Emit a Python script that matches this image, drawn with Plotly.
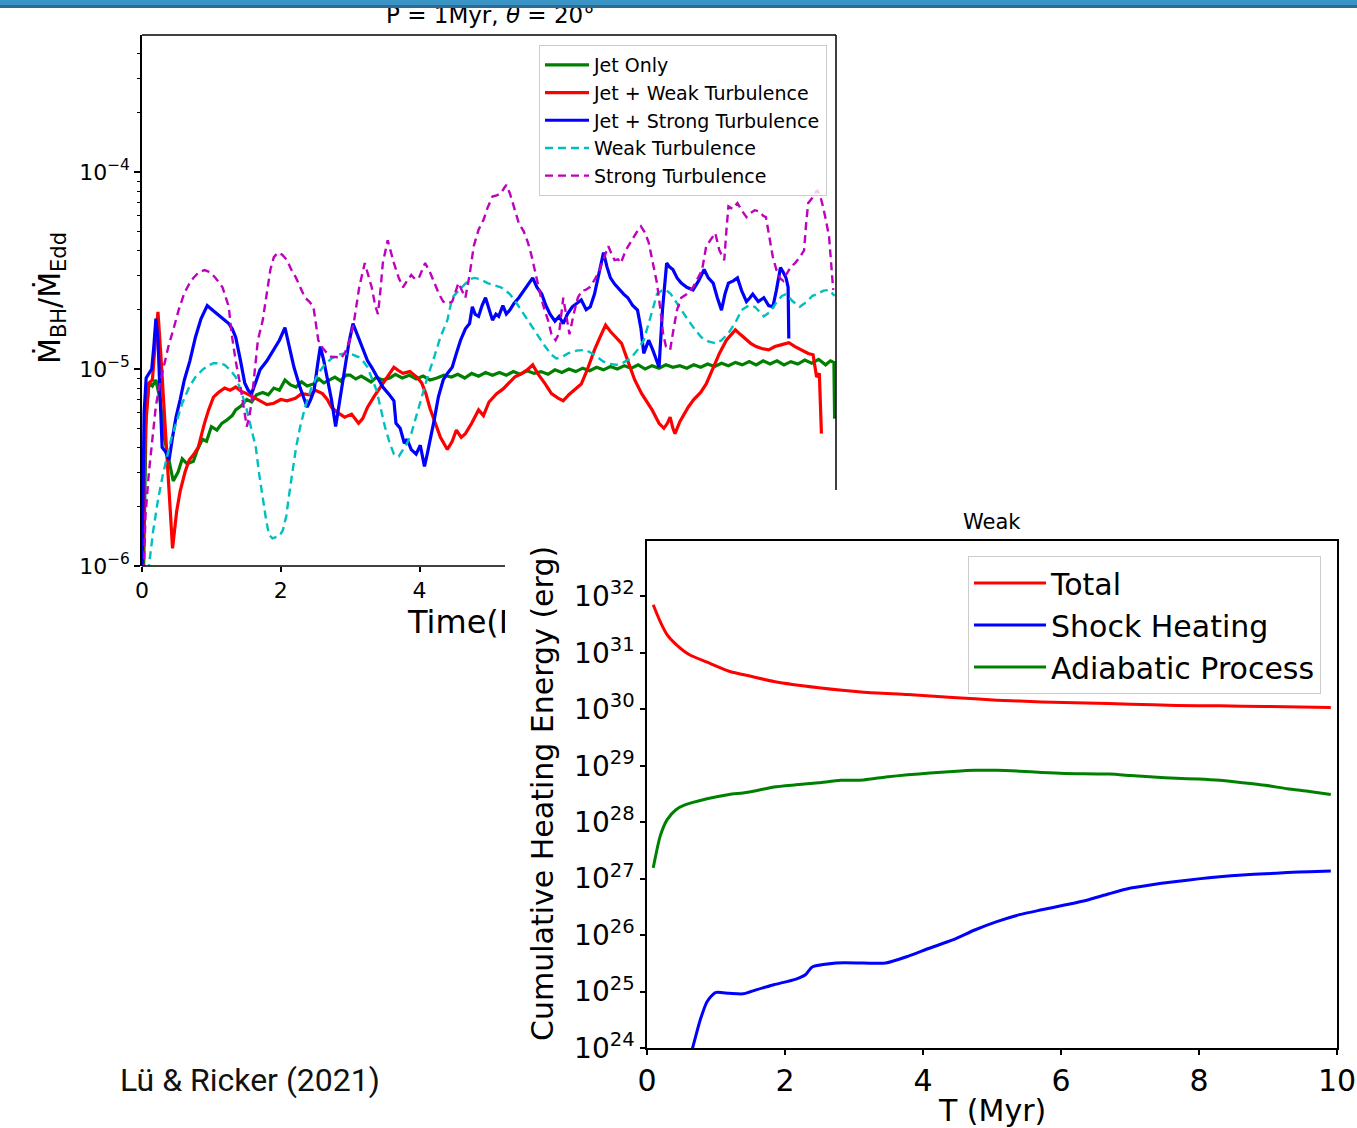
import math
import plotly.graph_objects as go

# ---------------- Chart 1 data : accretion rate vs time ----------------
t_jet = [0.02, 0.06, 0.10, 0.15, 0.20, 0.26, 0.32, 0.40, 0.45, 0.52, 0.58, 0.65, 0.74, 0.80, 0.87, 0.93,
         1.00, 1.08, 1.15, 1.22, 1.30, 1.35, 1.43, 1.51, 1.58, 1.65, 1.74, 1.82, 1.90, 1.98, 2.06, 2.14,
         2.22, 2.30, 2.38, 2.47, 2.55, 2.62, 2.70, 2.78, 2.86, 2.94, 3.00, 3.08, 3.16, 3.24, 3.30, 3.38,
         3.46, 3.57, 3.65, 3.75, 3.85, 3.95, 4.05, 4.15, 4.25, 4.35, 4.46, 4.55, 4.65, 4.75, 4.85, 4.95,
         5.05, 5.15, 5.25, 5.35, 5.45, 5.55, 5.65, 5.75, 5.85, 5.95, 6.05, 6.15, 6.25, 6.35, 6.45, 6.55,
         6.65, 6.75, 6.85, 6.95, 7.05, 7.15, 7.25, 7.35, 7.45, 7.55, 7.65, 7.75, 7.85, 7.95, 8.05, 8.15,
         8.25, 8.35, 8.45, 8.55, 8.65, 8.75, 8.85, 8.95, 9.05, 9.15, 9.25, 9.35, 9.45, 9.55, 9.65, 9.75,
         9.85, 9.92, 9.97, 9.98]
mdot_jet = [8e-7, 6.0e-6, 8.5e-6, 8.2e-6, 8.8e-6, 7.0e-6, 4.5e-6, 3.2e-6, 2.7e-6, 3.0e-6, 3.5e-6, 3.3e-6,
            3.4e-6, 3.9e-6, 4.4e-6, 4.3e-6, 5.1e-6, 4.9e-6, 5.3e-6, 5.5e-6, 5.8e-6, 6.2e-6, 6.5e-6, 7.0e-6,
            6.8e-6, 7.4e-6, 7.6e-6, 7.4e-6, 8.0e-6, 7.8e-6, 8.8e-6, 8.3e-6, 8.1e-6, 8.6e-6, 8.2e-6, 8.4e-6,
            8.9e-6, 8.5e-6, 8.8e-6, 9.1e-6, 8.7e-6, 9.3e-6, 9.3e-6, 8.9e-6, 9.2e-6, 8.8e-6, 8.6e-6, 9.1e-6,
            8.8e-6, 9.0e-6, 9.4e-6, 9.0e-6, 9.3e-6, 8.9e-6, 9.2e-6, 8.8e-6, 9.0e-6, 9.3e-6, 9.1e-6, 9.4e-6,
            9.0e-6, 9.5e-6, 9.2e-6, 9.6e-6, 9.3e-6, 9.6e-6, 9.3e-6, 9.7e-6, 9.4e-6, 9.8e-6, 9.5e-6, 9.7e-6,
            9.4e-6, 9.9e-6, 9.6e-6, 1.0e-5, 9.7e-6, 1.01e-5, 9.8e-6, 1.02e-5, 9.9e-6, 1.03e-5, 1.0e-5,
            1.04e-5, 1.01e-5, 1.05e-5, 1.0e-5, 1.04e-5, 1.01e-5, 1.05e-5, 1.02e-5, 1.04e-5, 1.01e-5,
            1.05e-5, 1.02e-5, 1.06e-5, 1.03e-5, 1.07e-5, 1.04e-5, 1.08e-5, 1.05e-5, 1.09e-5, 1.05e-5,
            1.1e-5, 1.06e-5, 1.1e-5, 1.05e-5, 1.09e-5, 1.06e-5, 1.11e-5, 1.07e-5, 1.12e-5, 1.05e-5,
            1.1e-5, 1.08e-5, 5.6e-6]

t_jet_weak = [0.00, 0.05, 0.10, 0.15, 0.20, 0.23, 0.27, 0.32, 0.37, 0.44, 0.50, 0.55, 0.62, 0.68, 0.75,
              0.81, 0.90, 0.96, 1.03, 1.10, 1.19, 1.27, 1.35, 1.43, 1.51, 1.60, 1.70, 1.80, 1.90, 2.00,
              2.09, 2.21, 2.30, 2.42, 2.50, 2.60, 2.67, 2.73, 2.82, 2.92, 3.02, 3.12, 3.18, 3.25, 3.35,
              3.44, 3.53, 3.63, 3.70, 3.76, 3.86, 3.96, 4.03, 4.09, 4.15, 4.21, 4.30, 4.40, 4.47, 4.53,
              4.60, 4.66, 4.75, 4.85, 4.92, 5.00, 5.11, 5.20, 5.28, 5.37, 5.45, 5.55, 5.63, 5.70, 5.81,
              5.90, 6.00, 6.07, 6.15, 6.25, 6.33, 6.42, 6.52, 6.60, 6.68, 6.75, 6.82, 6.91, 7.00, 7.10,
              7.20, 7.28, 7.35, 7.45, 7.52, 7.57, 7.61, 7.65, 7.68, 7.75, 7.87, 7.95, 8.05, 8.13, 8.22,
              8.32, 8.42, 8.55, 8.62, 8.70, 8.77, 8.85, 8.93, 9.03, 9.12, 9.22, 9.32, 9.41, 9.50, 9.60,
              9.67, 9.72, 9.76, 9.79]
mdot_jet_weak = [8e-7, 5e-6, 8.5e-6, 8.8e-6, 1.5e-5, 1.95e-5, 1.2e-5, 6.4e-6, 3.0e-6, 1.23e-6, 1.9e-6,
                 2.4e-6, 3.0e-6, 3.45e-6, 3.7e-6, 4.0e-6, 5.3e-6, 6.2e-6, 7.2e-6, 7.6e-6, 8.0e-6, 7.8e-6,
                 8.1e-6, 7.7e-6, 7.5e-6, 7.2e-6, 6.9e-6, 6.6e-6, 6.7e-6, 7.0e-6, 6.9e-6, 7.1e-6, 7.5e-6,
                 7.4e-6, 7.8e-6, 7.5e-6, 7.0e-6, 6.4e-6, 6.0e-6, 5.7e-6, 5.9e-6, 5.3e-6, 5.6e-6, 6.4e-6,
                 7.3e-6, 8.1e-6, 9.0e-6, 1.02e-5, 9.8e-6, 9.5e-6, 9.7e-6, 9.1e-6, 8.5e-6, 7.5e-6, 6.3e-6,
                 5.5e-6, 4.5e-6, 3.9e-6, 4.3e-6, 4.9e-6, 4.5e-6, 4.7e-6, 5.3e-6, 6.2e-6, 5.8e-6, 6.8e-6,
                 7.5e-6, 7.9e-6, 8.4e-6, 9.1e-6, 9.4e-6, 9.9e-6, 1.05e-5, 9.5e-6, 8.4e-6, 7.5e-6, 7.1e-6,
                 6.9e-6, 7.4e-6, 7.9e-6, 8.4e-6, 1.0e-5, 1.25e-5, 1.45e-5, 1.67e-5, 1.55e-5, 1.45e-5,
                 1.35e-5, 1.1e-5, 8.8e-6, 7.5e-6, 6.8e-6, 6.2e-6, 5.3e-6, 5.0e-6, 5.3e-6, 5.7e-6, 5.0e-6,
                 4.7e-6, 5.4e-6, 6.4e-6, 7.0e-6, 7.6e-6, 8.4e-6, 1.0e-5, 1.2e-5, 1.4e-5, 1.58e-5, 1.5e-5,
                 1.42e-5, 1.35e-5, 1.3e-5, 1.27e-5, 1.25e-5, 1.3e-5, 1.33e-5, 1.36e-5, 1.3e-5, 1.25e-5,
                 1.2e-5, 1.18e-5, 9.1e-6, 9.5e-6, 4.7e-6]

t_jet_strong = [0.00, 0.03, 0.06, 0.10, 0.14, 0.17, 0.20, 0.23, 0.26, 0.29, 0.34, 0.39, 0.44, 0.49, 0.55,
                0.61, 0.69, 0.77, 0.85, 0.94, 1.01, 1.09, 1.17, 1.25, 1.30, 1.35, 1.42, 1.48, 1.53, 1.58,
                1.64, 1.70, 1.80, 1.90, 1.98, 2.06, 2.12, 2.19, 2.28, 2.38, 2.43, 2.48, 2.53, 2.57, 2.62,
                2.67, 2.73, 2.79, 2.85, 2.92, 2.98, 3.04, 3.10, 3.18, 3.25, 3.31, 3.40, 3.47, 3.55, 3.63,
                3.66, 3.72, 3.78, 3.82, 3.88, 3.95, 4.01, 4.07, 4.11, 4.15, 4.21, 4.27, 4.34, 4.40, 4.47,
                4.53, 4.59, 4.66, 4.72, 4.76, 4.80, 4.85, 4.90, 4.95, 5.00, 5.05, 5.10, 5.14, 5.20, 5.25,
                5.30, 5.36, 5.43, 5.50, 5.57, 5.63, 5.69, 5.76, 5.82, 5.88, 5.95, 6.01, 6.07, 6.13, 6.20,
                6.27, 6.33, 6.40, 6.46, 6.52, 6.58, 6.65, 6.70, 6.75, 6.81, 6.88, 6.94, 7.00, 7.07, 7.14,
                7.19, 7.23, 7.30, 7.36, 7.41, 7.45, 7.50, 7.56, 7.60, 7.65, 7.71, 7.77, 7.85, 7.94, 8.02,
                8.10, 8.16, 8.23, 8.29, 8.35, 8.40, 8.45, 8.52, 8.58, 8.64, 8.71, 8.76, 8.80, 8.88, 8.96,
                9.03, 9.09, 9.14, 9.20, 9.24, 9.28, 9.31, 9.32]
mdot_jet_strong = [9e-7, 6e-6, 9e-6, 9.5e-6, 1.0e-5, 1.3e-5, 1.8e-5, 1.4e-5, 8e-6, 4.0e-6, 3.8e-6, 3.45e-6,
                   4.5e-6, 5.7e-6, 7.0e-6, 8.8e-6, 1.1e-5, 1.45e-5, 1.8e-5, 2.1e-5, 2.0e-5, 1.9e-5, 1.8e-5,
                   1.7e-5, 1.6e-5, 1.45e-5, 1.1e-5, 8.5e-6, 7.8e-6, 7.5e-6, 8.6e-6, 9.9e-6, 1.1e-5, 1.25e-5,
                   1.4e-5, 1.62e-5, 1.3e-5, 1.02e-5, 8.0e-6, 6.4e-6, 7.0e-6, 7.8e-6, 1.05e-5, 1.3e-5, 1.1e-5,
                   9.1e-6, 7.0e-6, 5.1e-6, 7.0e-6, 1.02e-5, 1.35e-5, 1.7e-5, 1.5e-5, 1.25e-5, 1.1e-5, 1.02e-5,
                   9.0e-6, 8.1e-6, 7.5e-6, 6.9e-6, 5.3e-6, 5.0e-6, 4.2e-6, 4.4e-6, 3.9e-6, 3.7e-6, 4.1e-6,
                   3.2e-6, 3.7e-6, 4.3e-6, 5.5e-6, 7.2e-6, 8.8e-6, 9.5e-6, 1.02e-5, 1.2e-5, 1.4e-5, 1.6e-5,
                   1.7e-5, 2.07e-5, 1.9e-5, 1.85e-5, 2.1e-5, 2.3e-5, 2.0e-5, 1.77e-5, 1.9e-5, 1.85e-5, 2.1e-5,
                   1.9e-5, 1.99e-5, 2.15e-5, 2.3e-5, 2.5e-5, 2.7e-5, 2.9e-5, 2.6e-5, 2.4e-5, 2.1e-5, 1.9e-5,
                   1.75e-5, 1.85e-5, 1.7e-5, 1.9e-5, 2.07e-5, 2.15e-5, 2.24e-5, 2.0e-5, 2.07e-5, 2.4e-5,
                   3.0e-5, 3.9e-5, 3.3e-5, 2.9e-5, 2.7e-5, 2.52e-5, 2.4e-5, 2.3e-5, 2.1e-5, 1.99e-5, 1.6e-5,
                   1.2e-5, 1.4e-5, 1.25e-5, 1.1e-5, 1.02e-5, 2.0e-5, 3.45e-5, 3.3e-5, 3.2e-5, 2.9e-5, 2.73e-5,
                   2.6e-5, 2.52e-5, 2.8e-5, 3.2e-5, 2.9e-5, 2.73e-5, 2.3e-5, 1.99e-5, 2.4e-5, 2.73e-5, 2.8e-5,
                   2.9e-5, 2.5e-5, 2.2e-5, 2.3e-5, 2.4e-5, 2.2e-5, 2.3e-5, 2.1e-5, 2.07e-5, 2.5e-5, 3.27e-5,
                   3.1e-5, 2.9e-5, 2.6e-5, 1.43e-5]

t_weak = [0.08, 0.10, 0.16, 0.23, 0.30, 0.36, 0.42, 0.49, 0.58, 0.68, 0.77, 0.87, 0.95, 1.03, 1.11, 1.19,
          1.27, 1.35, 1.43, 1.51, 1.58, 1.64, 1.69, 1.74, 1.79, 1.83, 1.88, 1.93, 1.98, 2.03, 2.08, 2.12,
          2.17, 2.22, 2.28, 2.35, 2.44, 2.54, 2.63, 2.73, 2.82, 2.92, 3.02, 3.12, 3.19, 3.25, 3.31, 3.38,
          3.44, 3.50, 3.57, 3.63, 3.70, 3.76, 3.82, 3.88, 3.95, 4.01, 4.11, 4.21, 4.30, 4.40, 4.47, 4.56,
          4.66, 4.72, 4.79, 4.88, 4.98, 5.08, 5.17, 5.24, 5.30, 5.40, 5.50, 5.57, 5.63, 5.72, 5.81, 5.90,
          5.97, 6.05, 6.14, 6.26, 6.39, 6.52, 6.65, 6.75, 6.84, 6.94, 7.04, 7.14, 7.23, 7.30, 7.35, 7.42,
          7.49, 7.55, 7.62, 7.69, 7.78, 7.87, 7.96, 8.06, 8.16, 8.26, 8.35, 8.45, 8.55, 8.64, 8.74, 8.83,
          8.90, 8.96, 9.05, 9.15, 9.22, 9.28, 9.38, 9.48, 9.58, 9.66, 9.73, 9.82, 9.90, 9.98]
mdot_weak = [8e-7, 1.0e-6, 1.5e-6, 2.16e-6, 2.9e-6, 3.6e-6, 4.4e-6, 5.3e-6, 6.7e-6, 8.1e-6, 9.1e-6, 9.9e-6,
             1.04e-5, 1.07e-5, 1.07e-5, 1.05e-5, 9.9e-6, 9.1e-6, 7.7e-6, 6.2e-6, 4.9e-6, 4.0e-6, 2.9e-6,
             2.16e-6, 1.7e-6, 1.44e-6, 1.38e-6, 1.4e-6, 1.42e-6, 1.52e-6, 1.8e-6, 2.3e-6, 3.0e-6, 4.0e-6,
             5.1e-6, 6.4e-6, 8.0e-6, 9.5e-6, 1.05e-5, 1.13e-5, 1.18e-5, 1.2e-5, 1.19e-5, 1.15e-5, 1.09e-5,
             1.02e-5, 9.0e-6, 7.8e-6, 6.3e-6, 5.1e-6, 4.2e-6, 3.7e-6, 3.6e-6, 3.9e-6, 4.2e-6, 4.7e-6,
             5.7e-6, 6.9e-6, 9.0e-6, 1.15e-5, 1.45e-5, 1.77e-5, 2.3e-5, 2.5e-5, 2.73e-5, 2.85e-5, 2.9e-5,
             2.85e-5, 2.73e-5, 2.65e-5, 2.6e-5, 2.5e-5, 2.4e-5, 2.15e-5, 1.9e-5, 1.75e-5, 1.63e-5, 1.45e-5,
             1.3e-5, 1.18e-5, 1.13e-5, 1.15e-5, 1.2e-5, 1.24e-5, 1.25e-5, 1.18e-5, 1.09e-5, 1.06e-5,
             1.05e-5, 1.08e-5, 1.13e-5, 1.25e-5, 1.4e-5, 1.7e-5, 1.99e-5, 2.4e-5, 2.5e-5, 2.52e-5, 2.4e-5,
             2.2e-5, 1.95e-5, 1.77e-5, 1.6e-5, 1.45e-5, 1.38e-5, 1.35e-5, 1.4e-5, 1.52e-5, 1.72e-5,
             1.99e-5, 2.1e-5, 2.07e-5, 1.95e-5, 1.85e-5, 1.95e-5, 2.2e-5, 2.35e-5, 2.4e-5, 2.2e-5, 2.07e-5,
             2.2e-5, 2.35e-5, 2.4e-5, 2.5e-5, 2.52e-5, 2.35e-5]

t_strong = [0.02, 0.05, 0.10, 0.15, 0.20, 0.26, 0.32, 0.38, 0.45, 0.53, 0.61, 0.68, 0.74, 0.82, 0.90, 0.98,
            1.06, 1.16, 1.25, 1.29, 1.35, 1.42, 1.51, 1.55, 1.58, 1.62, 1.67, 1.74, 1.80, 1.85, 1.90, 1.96,
            2.02, 2.09, 2.15, 2.22, 2.28, 2.35, 2.41, 2.47, 2.54, 2.60, 2.67, 2.73, 2.80, 2.86, 2.92, 2.98,
            3.05, 3.13, 3.21, 3.26, 3.31, 3.36, 3.40, 3.44, 3.47, 3.54, 3.58, 3.63, 3.70, 3.76, 3.82, 3.88,
            3.94, 3.99, 4.04, 4.08, 4.15, 4.21, 4.28, 4.34, 4.40, 4.47, 4.52, 4.56, 4.61, 4.66, 4.72, 4.78,
            4.85, 4.92, 4.98, 5.05, 5.11, 5.17, 5.21, 5.25, 5.30, 5.34, 5.38, 5.43, 5.50, 5.56, 5.61, 5.66,
            5.70, 5.75, 5.80, 5.85, 5.90, 5.96, 6.01, 6.07, 6.11, 6.16, 6.22, 6.28, 6.34, 6.39, 6.45, 6.52,
            6.58, 6.64, 6.72, 6.77, 6.81, 6.86, 6.90, 6.97, 7.04, 7.12, 7.19, 7.25, 7.30, 7.36, 7.42, 7.47,
            7.51, 7.55, 7.61, 7.66, 7.71, 7.77, 7.85, 7.94, 8.01, 8.07, 8.13, 8.20, 8.26, 8.32, 8.39, 8.42,
            8.45, 8.51, 8.58, 8.64, 8.71, 8.77, 8.83, 8.90, 8.95, 8.99, 9.04, 9.09, 9.14, 9.19, 9.24, 9.28,
            9.35, 9.41, 9.48, 9.54, 9.57, 9.60, 9.66, 9.73, 9.77, 9.80, 9.85, 9.90, 9.96]
mdot_strong = [8e-7, 1.8e-6, 3.0e-6, 4.6e-6, 6.5e-6, 8.5e-6, 1.05e-5, 1.3e-5, 1.58e-5, 2.0e-5, 2.43e-5,
               2.7e-5, 2.9e-5, 3.1e-5, 3.18e-5, 3.1e-5, 2.9e-5, 2.6e-5, 2.07e-5, 1.52e-5, 1.1e-5, 8.1e-6,
               5.1e-6, 5.8e-6, 6.9e-6, 9.5e-6, 1.4e-5, 1.77e-5, 2.5e-5, 3.2e-5, 3.7e-5, 3.9e-5, 3.8e-5,
               3.57e-5, 3.2e-5, 2.9e-5, 2.6e-5, 2.3e-5, 2.2e-5, 2.07e-5, 1.4e-5, 1.28e-5, 1.2e-5, 1.15e-5,
               1.15e-5, 1.13e-5, 1.2e-5, 1.35e-5, 1.7e-5, 2.6e-5, 3.45e-5, 3.0e-5, 2.6e-5, 2.1e-5, 1.9e-5,
               2.6e-5, 3.45e-5, 4.5e-5, 4.0e-5, 3.45e-5, 2.9e-5, 2.6e-5, 2.8e-5, 3.0e-5, 2.85e-5, 2.9e-5,
               3.2e-5, 3.45e-5, 3.1e-5, 2.73e-5, 2.4e-5, 2.2e-5, 2.15e-5, 2.2e-5, 2.5e-5, 2.73e-5, 2.5e-5,
               2.3e-5, 3.0e-5, 4.2e-5, 5.1e-5, 5.7e-5, 6.6e-5, 7.5e-5, 7.6e-5, 7.8e-5, 8.2e-5, 8.6e-5,
               7.8e-5, 7.0e-5, 6.4e-5, 5.5e-5, 5.0e-5, 4.4e-5, 3.8e-5, 3.18e-5, 2.7e-5, 2.3e-5, 2.0e-5,
               1.77e-5, 1.5e-5, 1.4e-5, 1.52e-5, 2.3e-5, 1.9e-5, 1.5e-5, 1.9e-5, 2.3e-5, 2.5e-5, 2.52e-5,
               2.6e-5, 2.83e-5, 3.1e-5, 3.5e-5, 4.2e-5, 3.8e-5, 3.57e-5, 3.6e-5, 3.45e-5, 4.0e-5, 4.4e-5,
               4.9e-5, 5.3e-5, 4.9e-5, 4.4e-5, 3.5e-5, 2.73e-5, 2.0e-5, 1.5e-5, 1.3e-5, 1.25e-5, 1.6e-5,
               2.0e-5, 2.3e-5, 2.4e-5, 2.6e-5, 2.9e-5, 3.18e-5, 4.2e-5, 4.6e-5, 4.9e-5, 4.0e-5, 3.57e-5,
               5.0e-5, 6.7e-5, 6.5e-5, 6.96e-5, 6.4e-5, 5.9e-5, 6.2e-5, 6.4e-5, 6.3e-5, 6.0e-5, 5.9e-5,
               4.6e-5, 3.7e-5, 3.2e-5, 2.9e-5, 2.8e-5, 3.0e-5, 3.3e-5, 3.45e-5, 3.7e-5, 4.0e-5, 5.5e-5,
               6.96e-5, 7.4e-5, 8.1e-5, 7.6e-5, 6.96e-5, 5.8e-5, 4.7e-5, 2.52e-5]

names1 = ["Jet Only", "Jet + Weak Turbulence", "Jet + Strong Turbulence", "Weak Turbulence", "Strong Turbulence"]
y1_tickvals = [1e-6, 1e-5, 1e-4]
y1_ticktext = ["10<sup>\u22126</sup>", "10<sup>\u22125</sup>", "10<sup>\u22124</sup>"]
y1_minor = [2e-6, 3e-6, 4e-6, 5e-6, 6e-6, 7e-6, 8e-6, 9e-6, 2e-5, 3e-5, 4e-5, 5e-5, 6e-5, 7e-5, 8e-5, 9e-5,
            2e-4, 3e-4, 4e-4]
x1_tickvals = [0, 2, 4]

# ---------------- Chart 2 data : cumulative heating energy ----------------
t_total = [0.09, 0.19, 0.29, 0.42, 0.61, 0.87, 1.19, 1.52, 1.84, 2.49, 3.14, 3.78, 4.43, 5.07, 5.72, 6.36,
           7.01, 7.67, 8.30, 8.96, 9.91]
e_total = [7.1e31, 3.6e31, 2.1e31, 1.41e31, 9.3e30, 6.8e30, 4.7e30, 3.8e30, 3.1e30, 2.4e30, 2.0e30, 1.82e30,
           1.62e30, 1.45e30, 1.35e30, 1.29e30, 1.23e30, 1.17e30, 1.15e30, 1.12e30, 1.07e30]

t_shock = [0.62, 0.66, 0.77, 0.87, 0.99, 1.19, 1.39, 1.58, 1.84, 2.16, 2.30, 2.39, 2.74, 3.14, 3.46, 3.78,
           4.10, 4.43, 4.75, 5.07, 5.40, 5.72, 6.05, 6.36, 6.70, 7.01, 7.34, 7.67, 7.99, 8.30, 8.63, 8.96,
           9.28, 9.60, 9.91]
e_shock = [7e23, 1.0e24, 3.1e24, 6.6e24, 9.6e24, 9.3e24, 9.1e24, 1.07e25, 1.32e25, 1.66e25, 2.0e25, 2.7e25,
           3.2e25, 3.2e25, 3.2e25, 4.2e25, 5.9e25, 8.2e25, 1.23e26, 1.73e26, 2.3e26, 2.8e26, 3.4e26, 4.1e26,
           5.4e26, 6.8e26, 7.9e26, 8.9e26, 9.9e26, 1.08e27, 1.16e27, 1.22e27, 1.28e27, 1.33e27, 1.36e27]

t_adiab = [0.09, 0.19, 0.29, 0.42, 0.54, 0.87, 1.19, 1.39, 1.58, 1.84, 2.16, 2.49, 2.81, 3.14, 3.46, 3.78,
           4.10, 4.43, 4.75, 5.07, 5.40, 5.72, 6.05, 6.70, 7.01, 7.34, 7.67, 7.99, 8.30, 8.63, 8.96, 9.28,
           9.60, 9.91]
e_adiab = [1.55e27, 5.6e27, 1.1e28, 1.66e28, 2.0e28, 2.6e28, 3.1e28, 3.3e28, 3.6e28, 4.2e28, 4.6e28, 5.0e28,
           5.5e28, 5.6e28, 6.3e28, 6.9e28, 7.4e28, 7.9e28, 8.3e28, 8.3e28, 8.0e28, 7.6e28, 7.3e28, 7.1e28,
           6.7e28, 6.3e28, 6.0e28, 5.8e28, 5.5e28, 5.0e28, 4.5e28, 3.9e28, 3.5e28, 3.1e28]

names2 = ["Total", "Shock Heating", "Adiabatic Process"]
y2_tickvals = [10.0 ** k for k in range(24, 33)]
y2_ticktext = ["10<sup>%d</sup>" % k for k in range(24, 33)]
x2_tickvals = [0, 2, 4, 6, 8, 10]

# ---------------- layout helpers (pixel -> paper) ----------------
W, H = 1357, 1128
def px(x):
    return x / W
def py(y):
    return 1 - y / H

FONT = "DejaVu Sans"

fig = go.Figure()

series1 = [
    (t_jet, mdot_jet, "#008000", None, 3.2),
    (t_jet_weak, mdot_jet_weak, "#ff0000", None, 3.2),
    (t_jet_strong, mdot_jet_strong, "#0000ff", None, 3.2),
    (t_weak, mdot_weak, "#00bfbf", "8px,5px", 2.4),
    (t_strong, mdot_strong, "#bf00bf", "8px,5px", 2.4),
]
for (tx, vy, col, dash, w), nm in zip(series1, names1):
    fig.add_trace(go.Scatter(x=tx, y=vy, mode="lines", name=nm, xaxis="x", yaxis="y",
                             line=dict(color=col, width=w, dash=dash), legend="legend"))

series2 = [
    (t_total, e_total, "#ff0000"),
    (t_shock, e_shock, "#0000ff"),
    (t_adiab, e_adiab, "#008000"),
]
for (tx, vy, col), nm in zip(series2, names2):
    fig.add_trace(go.Scatter(x=tx, y=vy, mode="lines", name=nm, xaxis="x2", yaxis="y2",
                             line=dict(color=col, width=3, shape="spline", smoothing=0.6),
                             legend="legend2"))

fig.update_layout(
    width=W, height=H,
    margin=dict(l=0, r=0, t=0, b=0, pad=0, autoexpand=False),
    paper_bgcolor="white", plot_bgcolor="white",
    font=dict(family=FONT, color="black"),
    xaxis=dict(domain=[px(142), px(836)], range=[0, 10], anchor="y", automargin=False,
               tickmode="array", tickvals=x1_tickvals, ticks="outside", ticklen=5, tickwidth=1.5,
               tickcolor="black", showline=False, showgrid=False, zeroline=False,
               tickfont=dict(size=22, family=FONT)),
    yaxis=dict(domain=[py(566), py(35)], type="log", range=[-6, math.log10(4.96e-4)], anchor="x",
               automargin=False,
               tickmode="array", tickvals=y1_tickvals, ticktext=y1_ticktext, ticks="outside",
               ticklen=6, tickwidth=1.5, tickcolor="black", showline=True, linecolor="black",
               linewidth=1.5, showgrid=False, zeroline=False,
               minor=dict(tickmode="array", tickvals=y1_minor, ticks="outside", ticklen=3.5,
                          tickwidth=1, tickcolor="black", showgrid=False),
               tickfont=dict(size=22, family=FONT)),
    xaxis2=dict(domain=[px(647), px(1337)], range=[0, 10], anchor="y2", automargin=False,
                tickmode="array", tickvals=x2_tickvals, ticks="outside", ticklen=5, tickwidth=1.5,
                tickcolor="black", showline=True, mirror=True, linecolor="black", linewidth=1.5,
                showgrid=False, zeroline=False, tickfont=dict(size=30, family=FONT)),
    yaxis2=dict(domain=[py(1048), py(541)], type="log", range=[24, 32.98], anchor="x2",
                automargin=False,
                tickmode="array", tickvals=y2_tickvals, ticktext=y2_ticktext, ticks="outside",
                ticklen=5, tickwidth=1.5, tickcolor="black", showline=True, mirror=True,
                linecolor="black", linewidth=1.5, showgrid=False, zeroline=False,
                tickfont=dict(size=28, family=FONT)),
    legend=dict(x=px(827), y=py(45), xanchor="right", yanchor="top",
                bgcolor="rgba(255,255,255,0.8)", bordercolor="#cccccc", borderwidth=1,
                font=dict(size=19, family=FONT), traceorder="normal", itemwidth=44),
    legend2=dict(x=px(1321), y=py(556), xanchor="right", yanchor="top",
                 bgcolor="rgba(255,255,255,0.8)", bordercolor="#cccccc", borderwidth=1,
                 font=dict(size=30, family=FONT), traceorder="normal", itemwidth=72),
    showlegend=True,
)

# spines of chart 1 (bottom spine hidden under the second figure)
fig.add_shape(type="line", xref="paper", yref="paper", x0=px(142), x1=px(836), y0=py(35), y1=py(35),
              line=dict(color="black", width=1.5), layer="above")
fig.add_shape(type="line", xref="paper", yref="paper", x0=px(836), x1=px(836), y0=py(35), y1=py(490),
              line=dict(color="black", width=1.5), layer="above")
fig.add_shape(type="line", xref="paper", yref="paper", x0=px(142), x1=px(505), y0=py(566), y1=py(566),
              line=dict(color="black", width=1.5), layer="above")

ann = []
# chart 1 title (top partially hidden by the page banner)
ann.append(dict(text="P = 1Myr, <i>\u03b8</i> = 20\u00b0", x=px(490), y=py(15), xref="paper", yref="paper",
                xanchor="center", yanchor="middle", showarrow=False, font=dict(size=23, family=FONT)))
# banner on top
ann.append(dict(text=" ", x=0, y=1, xref="paper", yref="paper", xanchor="left", yanchor="top",
                width=W, height=6, bgcolor="#3b94c6", borderpad=0, borderwidth=0, showarrow=False,
                font=dict(size=4)))
ann.append(dict(text=" ", x=0, y=py(5), xref="paper", yref="paper", xanchor="left", yanchor="top",
                width=W, height=3, bgcolor="#2c6b93", borderpad=0, borderwidth=0, showarrow=False,
                font=dict(size=2)))
# chart 1 x title, partly hidden by the second figure
ann.append(dict(text="Time(Myr)", x=px(489), y=py(622), xref="paper", yref="paper",
                xanchor="center", yanchor="middle", showarrow=False, font=dict(size=32, family=FONT)))
ann.append(dict(text=" ", x=px(505), y=py(592), xref="paper", yref="paper", xanchor="left", yanchor="top",
                width=64, height=62, bgcolor="white", borderpad=0, borderwidth=0, showarrow=False,
                font=dict(size=4)))
# chart 2 y title
ann.append(dict(text="Cumulative Heating Energy (erg)", x=px(542), y=py(794), xref="paper", yref="paper",
                xanchor="center", yanchor="middle", textangle=-90, showarrow=False,
                font=dict(size=30, family=FONT)))
# chart 1 y title
ann.append(dict(text="\u1e40<sub>BH</sub>/\u1e40<sub>Edd</sub>", x=px(51), y=py(298), xref="paper",
                yref="paper", xanchor="center", yanchor="middle", textangle=-90, showarrow=False,
                font=dict(size=30, family=FONT)))
# chart 2 title and x title
ann.append(dict(text="Weak", x=px(992), y=py(522), xref="paper", yref="paper", xanchor="center",
                yanchor="middle", showarrow=False, font=dict(size=21, family=FONT)))
ann.append(dict(text="T (Myr)", x=px(992), y=py(1110), xref="paper", yref="paper", xanchor="center",
                yanchor="middle", showarrow=False, font=dict(size=30, family=FONT)))
# citation
ann.append(dict(text="L\u00fc & Ricker (2021)", x=px(250), y=py(1080), xref="paper", yref="paper",
                xanchor="center", yanchor="middle", showarrow=False,
                font=dict(size=32, family="Roboto", color="#111111")))
fig.update_layout(annotations=ann)

fig.write_html("out.html", config={"displayModeBar": False},
               post_script="document.body.style.margin='0';document.body.style.overflow='hidden';")
